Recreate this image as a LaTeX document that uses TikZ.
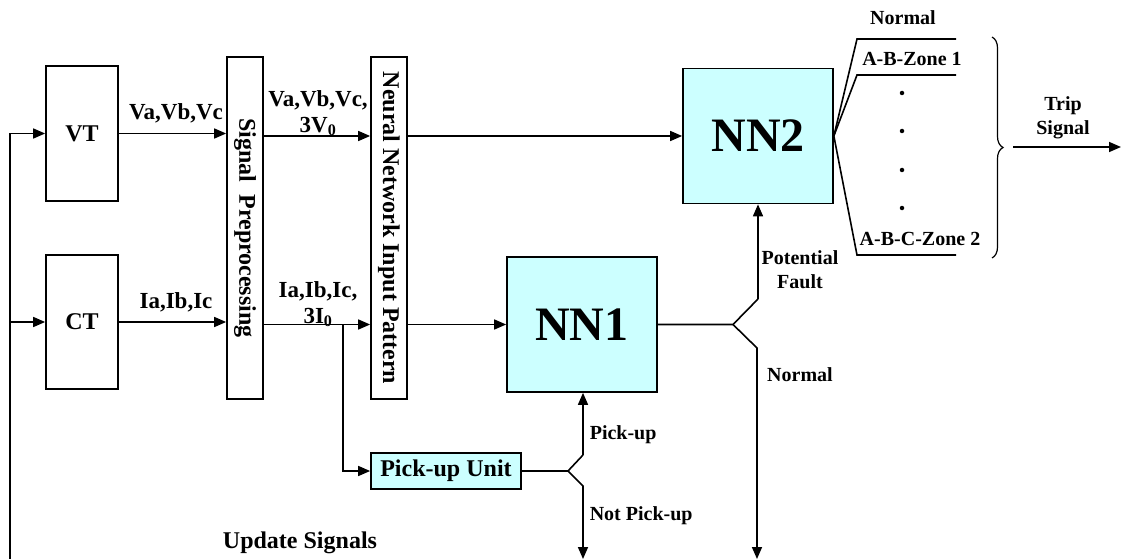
\documentclass[tikz,border=0pt]{standalone}
\usepackage{fontspec}
\setmainfont{Liberation Serif}
\usetikzlibrary{arrows.meta,decorations.pathreplacing}
\definecolor{nnfill}{RGB}{204,255,255}
\begin{document}
\begin{tikzpicture}[x=1pt,y=-1pt,
  line width=1.6pt,
  box/.style={draw,line width=1.7pt,inner sep=0pt,align=center,
    font=\fontsize{24}{27}\selectfont\bfseries},
  nnbox/.style={box,fill=nnfill,minimum width=150pt,minimum height=135pt,
    font=\fontsize{48}{50}\selectfont\bfseries},
  arr/.style={-{Triangle[length=12pt,width=10pt]}},
  lbl/.style={font=\fontsize{20}{24}\selectfont\bfseries,inner sep=0pt,align=center},
  siglbl/.style={font=\fontsize{23}{26}\selectfont\bfseries,inner sep=0pt,align=center},
  biglbl/.style={font=\fontsize{24}{27}\selectfont\bfseries,inner sep=0pt,align=center},
  dot/.style={circle,fill,inner sep=0pt,minimum size=4.5pt}
]
\useasboundingbox (0,0) rectangle (1122,559);

% measuring transformers
\node[box,minimum width=72pt,minimum height=135pt] (vt) at (82,133.5) {VT};
\node[box,minimum width=72pt,minimum height=134pt] (ct) at (82,322) {CT};

% preprocessing and input pattern stages
\node[box,minimum width=36pt,minimum height=342pt] (sp) at (245,228)
  {\rotatebox{-90}{Signal\ \ Preprocessing}};
\node[box,minimum width=36pt,minimum height=342pt] (nip) at (389,228)
  {\rotatebox{-90}{Neural Network Input Pattern}};

% neural networks and pick-up unit
\node[nnbox] (nn2) at (758,136) {NN2};
\node[nnbox] (nn1) at (582,324.5) {NN1};
\node[box,fill=nnfill,minimum width=150pt,minimum height=36pt] (pu) at (446,471) {Pick-up Unit};

% update signal feedback line
\coordinate (upd) at (10,559);
\draw (upd) -- (upd |- vt.west);
\draw[arr] (upd |- vt.west) -- (vt.west);
\draw[arr] (upd |- ct.west) -- (ct.west);
\node[biglbl] (updl) at (300,543) {Update Signals};

% voltage path
\draw[arr] (vt.east) -- (vt.east -| sp.west);
\node[siglbl] (vabc) at (176,113) {Va,Vb,Vc};
\draw[arr] (sp.east |- nn2.west) -- (nip.west |- nn2.west);
\node[siglbl] (vabc0) at (318,113) {Va,Vb,Vc,\\3V\textsubscript{0}};
\draw[arr] (nip.east |- nn2.west) -- (nn2.west);

% current path
\draw[arr] (ct.east) -- (ct.east -| sp.west);
\node[siglbl] (iabc) at (176,302) {Ia,Ib,Ic};
\draw[arr] (sp.east |- nn1.west) -- (nip.west |- nn1.west);
\node[siglbl] (iabc0) at (318,304) {Ia,Ib,Ic,\\3I\textsubscript{0}};
\draw[arr] (nip.east |- nn1.west) -- (nn1.west);

% branch to pick-up unit
\coordinate (br) at (343,324.5);
\draw[arr] (br) -- (br |- pu.west) -- (pu.west);

% pick-up decision fork
\coordinate (pf) at (568,471);
\coordinate (pfu) at (583,455);
\coordinate (pfd) at (583,486);
\coordinate (pend) at (583,559);
\draw (pu.east) -- (pf) -- (pfu);
\draw[arr] (pfu) -- (pfu |- nn1.south);
\draw[arr] (pf) -- (pfd) -- (pend);
\node[lbl,anchor=west] (pkl) at (589,435) {Pick-up};
\node[lbl,anchor=west] (npkl) at (589,516) {Not Pick-up};

% NN1 decision fork
\coordinate (nf) at (733,324.5);
\coordinate (nfu) at (758,299);
\coordinate (nfd) at (757,348);
\coordinate (nend) at (757,559);
\draw (nn1.east) -- (nf) -- (nfu);
\draw[arr] (nfu) -- (nn2.south);
\draw[arr] (nf) -- (nfd) -- (nend);
\node[lbl] (pfl) at (800,270) {Potential\\Fault};
\node[lbl] (nml) at (800,375) {Normal};

% NN2 outputs
\coordinate (o1) at (857,39);
\coordinate (o2) at (857,75);
\coordinate (o3) at (857,255);
\draw (nn2.east) -- (o1) -- ++(99,0);
\draw (nn2.east) -- (o2) -- ++(99,0);
\draw (nn2.east) -- (o3) -- ++(99,0);
\node[lbl] (onorm) at (903,18) {Normal};
\node[lbl] (oz1) at (912,59) {A-B-Zone 1};
\node[lbl] (oz2) at (920,239) {A-B-C-Zone 2};
\node[dot] (d1) at (902,93) {};
\node[dot] (d2) at (902,131) {};
\node[dot] (d3) at (902,170) {};
\node[dot] (d4) at (902,208) {};

% grouping brace and trip signal
\coordinate (bt) at (992,37);
\coordinate (bb) at (992,258);
\draw[line width=1.2pt,decorate,decoration={brace,amplitude=11pt}] (bt) -- (bb);
\coordinate (ts) at (1013,147);
\coordinate (te) at (1121,147);
\draw[arr] (ts) -- (te);
\node[lbl] (trip) at (1063,118) {Trip\\Signal};
\end{tikzpicture}
\end{document}
